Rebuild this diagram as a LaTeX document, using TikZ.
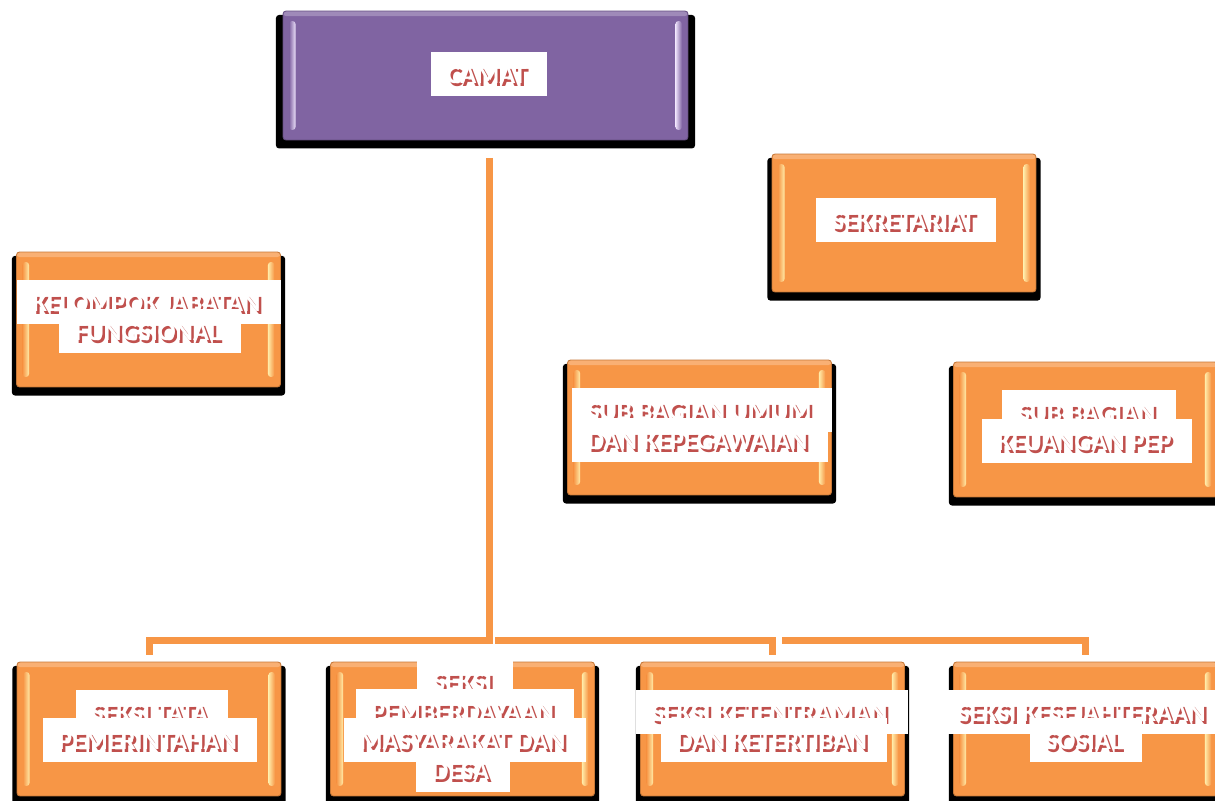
\documentclass[tikz,border=0pt]{standalone}
\usepackage{fontspec}
\setmainfont{Carlito}
\usetikzlibrary{shadows}

\definecolor{camatpurple}{HTML}{8064A2}
\definecolor{boxorange}{HTML}{F79646}
\definecolor{shadowred}{HTML}{C0504D}
\definecolor{bevelyellow}{HTML}{FFEBA8}
\definecolor{bevelpurple}{HTML}{ECE0FA}

% white label with red drop shadow: name, centre, text
\newcommand{\boxlabel}[3]{%
  \node[lblbox] (#1) at (#2) {#3};
  \node[lbltext] (#1w) at ([xshift=-0.05cm,yshift=0.05cm]#1.center) {#3};
}

\begin{document}
\begin{tikzpicture}[
  x=0.02cm, y=-0.02cm,
  orgbox/.style 2 args={rectangle, rounded corners=0.06cm, inner sep=0pt, outer sep=0pt,
    fill=#1, draw=#1!80!black, line width=0.5pt,
    general shadow={fill=black, shadow yshift=-0.12cm, shadow scale=1.035},
    path picture={
      \fill[white, opacity=0.25] (path picture bounding box.north west)
        rectangle ([yshift=-0.1cm]path picture bounding box.north east);
      \shade[left color=#1, right color=#2]
        ([xshift=0.12cm, yshift=-0.2cm]path picture bounding box.north west) rectangle
        ([xshift=0.25cm, yshift=0.2cm]path picture bounding box.south west);
      \shade[left color=#2, right color=#1]
        ([xshift=-0.25cm, yshift=-0.2cm]path picture bounding box.north east) rectangle
        ([xshift=-0.12cm, yshift=0.2cm]path picture bounding box.south east);
    }},
  unit/.style={orgbox={boxorange}{bevelyellow}, minimum width=5.28cm, minimum height=2.7cm},
  lblbox/.style={fill=white, text=shadowred, font=\fontsize{15}{18}\selectfont\bfseries,
    inner xsep=0.36cm, inner ysep=0.2cm, text height=0.49cm, text depth=0pt},
  lbltext/.style={lblbox, fill=none, text=white},
  link/.style={draw=boxorange, line width=0.14cm},
]
  \useasboundingbox (0,0) rectangle (1215,801);
  \clip (0,0) rectangle (1215,801);

  % Camat (top)
  \node[orgbox={camatpurple}{bevelpurple}, minimum width=8.1cm, minimum height=2.58cm]
    (camat) at (485.5,75.5) {};

  % Staff units
  \node[unit, minimum height=2.76cm] (sek) at (904,223) {};
  \node[unit] (kjf) at (148.5,319.5) {};
  \node[unit] (umum) at (699.5,427.5) {};
  \node[unit] (keu) at (1085.5,429.5) {};

  % Seksi row
  \foreach \nm/\cx in {sA/149, sB/462.5, sC/772.5, sD/1085.5} {
    \node[unit, minimum height=2.68cm] (\nm) at (\cx,729) {};
  }

  % Connectors
  \coordinate (jn) at (489,640);
  \coordinate (jn2) at (jn -| sC.north);
  \draw[link, shorten <=0.36cm, shorten >=0.14cm] (camat.south -| jn) -- (jn) -| (sA.north);
  \draw[link, shorten >=0.14cm] ([xshift=0.12cm]jn) -| (sC.north);
  \draw[link, shorten >=0.14cm] ([xshift=0.19cm]jn2) -| (sD.north);

  % Labels
  \boxlabel{camatL}{489,74}{CAMAT}
  \boxlabel{sekL}{906,220}{SEKRETARIAT}
  \boxlabel{kjfA}{149,302}{KELOMPOK JABATAN}
  \boxlabel{kjfB}{150,331}{FUNGSIONAL}
  \boxlabel{umumA}{702,410}{SUB BAGIAN UMUM}
  \boxlabel{umumB}{700,440}{DAN KEPEGAWAIAN}
  \boxlabel{keuA}{1089,412}{SUB BAGIAN}
  \boxlabel{keuB}{1087,441}{KEUANGAN PEP}
  \boxlabel{sAa}{152,712}{SEKSI TATA}
  \boxlabel{sAb}{150,740}{PEMERINTAHAN}
  \boxlabel{sBa}{465,681}{SEKSI}
  \boxlabel{sBb}{465,711}{PEMBERDAYAAN}
  \boxlabel{sBc}{465,740}{MASYARAKAT DAN}
  \boxlabel{sBd}{463,770}{DESA}
  \boxlabel{sCa}{772,712}{SEKSI KETENTRAMAN}
  \boxlabel{sCb}{774,740}{DAN KETERTIBAN}
  \boxlabel{sDa}{1084,712}{SEKSI KESEJAHTERAAN}
  \boxlabel{sDb}{1086,740}{SOSIAL}

\end{tikzpicture}
\end{document}
